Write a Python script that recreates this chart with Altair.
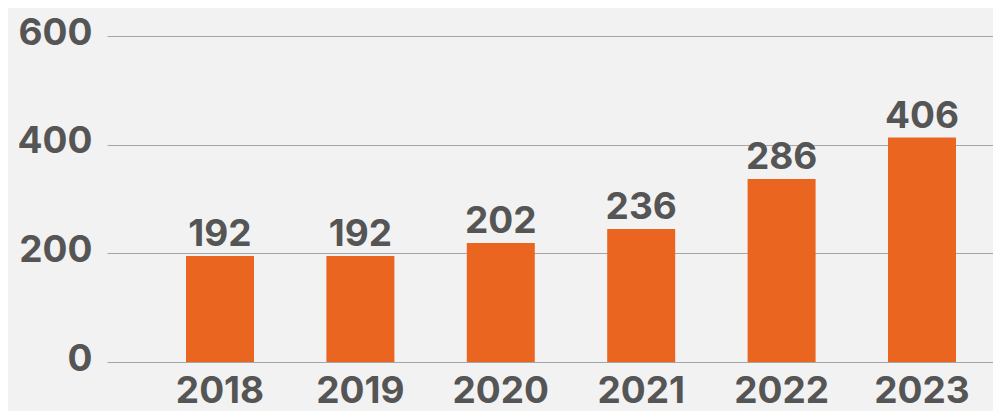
import altair as alt
import pandas as pd

years = ["2018", "2019", "2020", "2021", "2022", "2023"]
bar_values = [195, 195, 219, 245, 337, 413]
label_values = [192, 192, 202, 236, 286, 406]
y_ticks = [0, 200, 400, 600]

df = pd.DataFrame({"year": years, "bar": bar_values, "label": label_values})

FONT = "Inter"
WEIGHT = 700
SIZE = 37
TEXT_COLOR = "#555555"
BAR_COLOR = "#EA6520"

x = alt.X(
    "year:N",
    sort=years,
    title=None,
    scale=alt.Scale(paddingInner=0.5157, paddingOuter=0.4131, align=0.681),
    axis=alt.Axis(
        labelAngle=0,
        labelFont=FONT,
        labelFontSize=SIZE,
        labelFontWeight=WEIGHT,
        labelColor=TEXT_COLOR,
        labelBaseline="alphabetic",
        labelPadding=40,
        ticks=False,
        tickSize=0,
        domain=False,
        grid=False,
    ),
)

y = alt.Y(
    "bar:Q",
    title=None,
    scale=alt.Scale(domain=[0, 600], nice=False),
    axis=alt.Axis(
        values=y_ticks,
        labelFont=FONT,
        labelFontSize=SIZE,
        labelFontWeight=WEIGHT,
        labelColor=TEXT_COLOR,
        labelBaseline="alphabetic",
        labelOffset=8,
        labelPadding=15,
        ticks=False,
        tickSize=0,
        domain=False,
        grid=True,
        gridColor="#a6a6a6",
        gridWidth=1.2,
    ),
)

base = alt.Chart(df)

bars = base.mark_bar(color=BAR_COLOR).encode(x=x, y=y)

labels = base.mark_text(
    font=FONT,
    fontSize=SIZE,
    fontWeight=WEIGHT,
    color=TEXT_COLOR,
    baseline="alphabetic",
    align="center",
    dy=-10,
).encode(x=alt.X("year:N", sort=years), y=alt.Y("bar:Q"), text="label:Q")

chart = (
    alt.layer(bars, labels)
    .properties(
        width=886,
        height=326,
        background="#f2f2f2",
        padding={"left": 99, "top": 28, "right": 0, "bottom": 49},
        autosize=alt.AutoSizeParams(type="none"),
    )
    .configure_view(stroke=None)
)

chart.save("out.html", embed_options={"renderer": "svg", "actions": False})
